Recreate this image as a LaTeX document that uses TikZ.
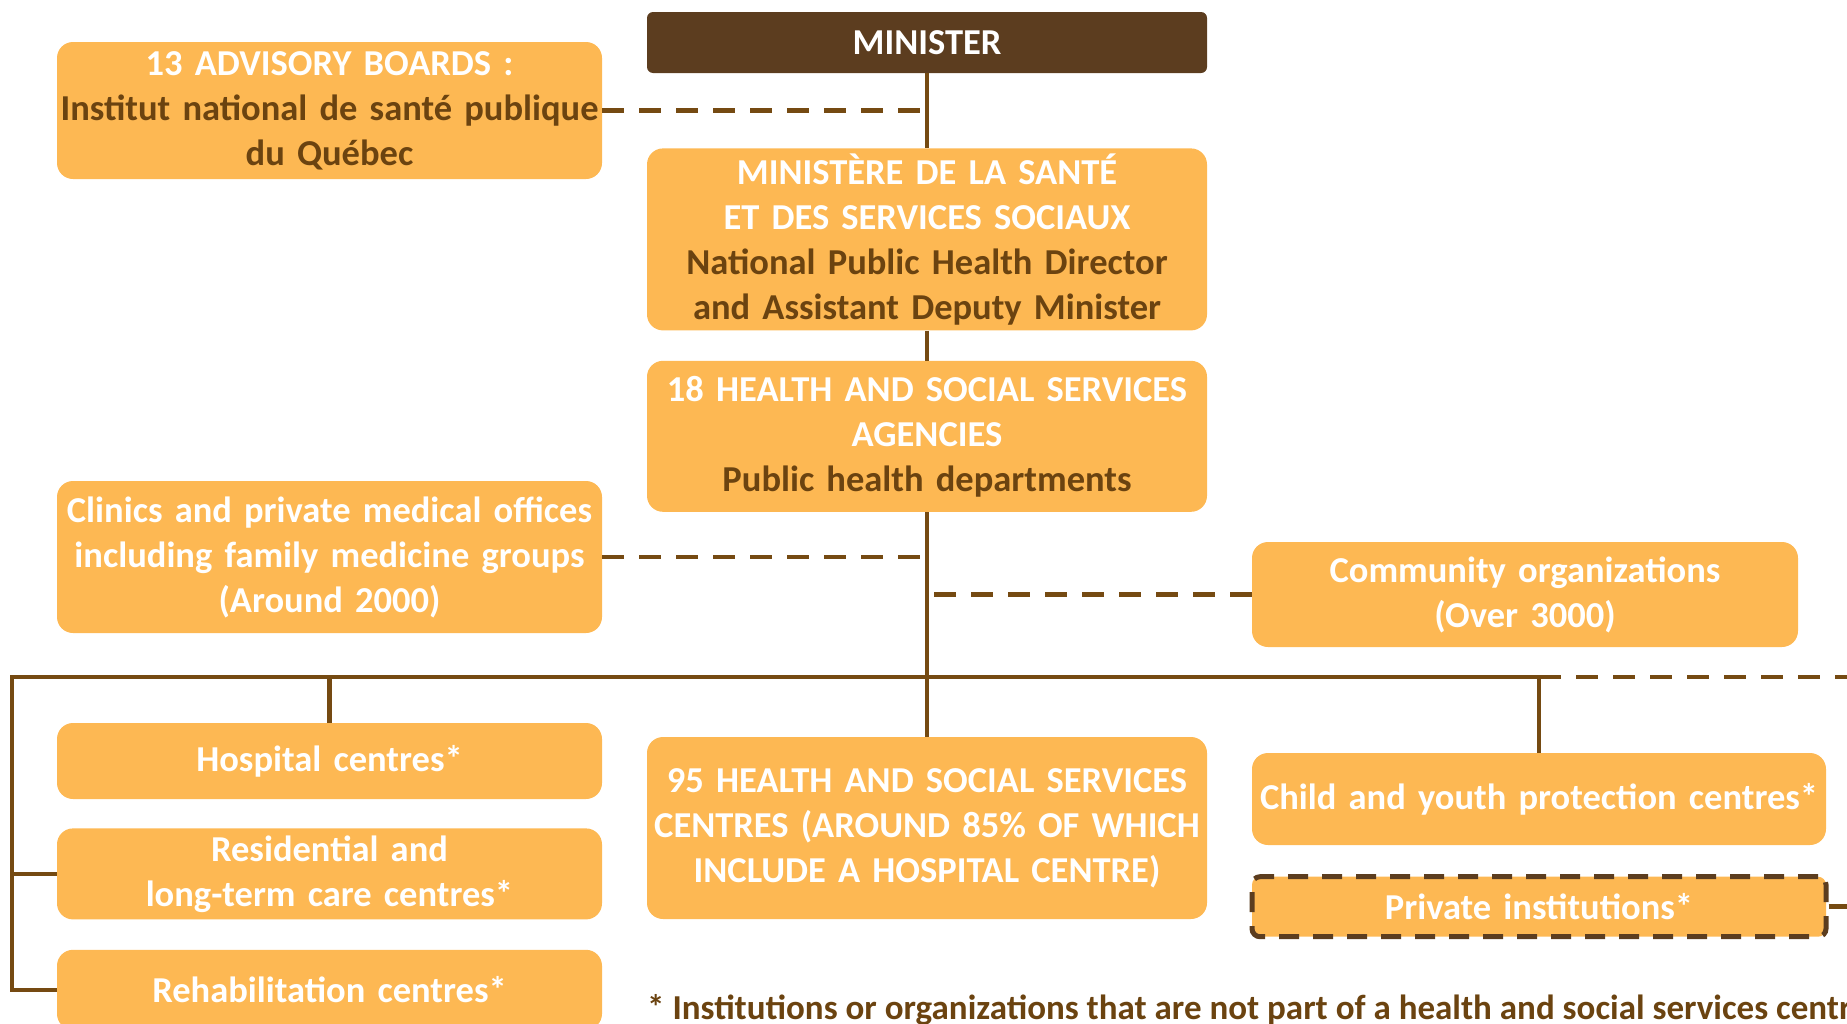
\documentclass[tikz,border=0pt]{standalone}
\usepackage{fontspec}
\setmainfont{Carlito}
\usepackage{tikz}
\usetikzlibrary{positioning}
\usepackage{xcolor}
\definecolor{boxfill}{HTML}{FDB853}
\definecolor{darkbox}{HTML}{5C3D1F}
\definecolor{linebrown}{HTML}{754A12}
\definecolor{txtbrown}{HTML}{6B4310}
\newcommand{\brn}[1]{\textcolor{txtbrown}{#1}}
\hyphenpenalty=10000
\exhyphenpenalty=10000

\begin{document}
\begin{tikzpicture}[x=1pt, y=-1pt,
		orgbox/.style={
			rectangle,
			rounded corners=16pt,
			fill=boxfill,
			text=white,
			inner sep=0pt,
			align=center,
			font=\fontsize{36.5}{45}\selectfont\bfseries},
		leftbox/.style={orgbox, minimum width=545pt, text width=545pt},
		midbox/.style={orgbox, minimum width=560pt, text width=560pt},
		rightbox/.style={orgbox, minimum width=574pt, text width=574pt},
		link/.style={draw=linebrown, line width=4.5pt},
		dashlink/.style={draw=linebrown, line width=4.5pt, dash pattern=on 22pt off 15pt},
		node distance=30pt]
		\useasboundingbox (0,0) rectangle (1847,1023);
		% centre column
		\node[midbox, fill=darkbox, rounded corners=6pt, minimum height=61pt] (minister) at (927,42.5) {MINISTER};
		\node[midbox, minimum height=182pt, below=75pt of minister] (ministere) {MINISTÈRE DE LA SANTÉ\\ET DES SERVICES SOCIAUX\\\brn{National Public Health Director}\\\brn{and Assistant Deputy Minister}};
		\node[midbox, minimum height=151pt, below=of ministere] (agencies) {18 HEALTH AND SOCIAL SERVICES\\AGENCIES\\\brn{Public health departments}};
		\node[midbox, minimum height=182pt] (hssc) at (927,828) {95 HEALTH AND SOCIAL SERVICES\\CENTRES (AROUND 85\% OF WHICH\\INCLUDE A HOSPITAL CENTRE)};
		% left column
		\node[leftbox, minimum height=137pt] (advisory) at (329.5,110.5) {13 ADVISORY BOARDS :\\\makebox[\linewidth]{\brn{Institut national de santé publique}}\\\brn{du Québec}};
		\node[leftbox, minimum height=152pt] (clinics) at (329.5,557) {Clinics and private medical offices\\including family medicine groups\\(Around 2000)};
		\node[leftbox, minimum height=76pt] (hospital) at (329.5,761) {Hospital centres*};
		\node[leftbox, minimum height=91pt, below=29pt of hospital] (residential) {Residential and\\long-term care centres*};
		\node[leftbox, minimum height=80pt, below=of residential] (rehab) {Rehabilitation centres*};
		% right column
		\node[orgbox, minimum width=546pt, text width=546pt, minimum height=105pt] (community) at (1525,594.5) {Community organizations\\(Over 3000)};
		\node[rightbox, minimum height=92pt] (child) at (1539,799) {Child and youth protection centres*};
		\node[rightbox, minimum height=60pt, below=29pt of child, rounded corners=8pt,
			draw=darkbox, line width=5pt, dash pattern=on 20pt off 14pt] (private) {Private institutions*};
		\coordinate (barL) at (12,677);
		\coordinate (barR) at (1847,677);
		% links
		\draw[link] (minister) -- (ministere);
		\draw[link] (ministere) -- (agencies);
		\draw[link] (agencies) -- (hssc);
		\draw[link] (barL -| child.north) -- (barL) |- (rehab.west);
		\draw[dashlink] (barL -| child.north) -- (barR);
		\draw[link] (barL |- residential.west) -- (residential.west);
		\draw[link] (barL -| hospital.north) -- (hospital.north);
		\draw[link] (barL -| child.north) -- (child.north);
		\draw[dashlink] (advisory.east) -- (advisory.east -| minister.south);
		\draw[dashlink] (clinics.east) -- (clinics.east -| agencies.south);
		\draw[dashlink] (community.west) -- ([xshift=4pt]community.west -| agencies.south);
		\draw[link] (private.east) -- (private.east -| barR);
		\node[anchor=base west, text=txtbrown, inner sep=0pt, font=\fontsize{35}{40}\selectfont\bfseries] (note) at (647,1019) {* Institutions or organizations that are not part of a health and social services centre};
\end{tikzpicture}
\end{document}
